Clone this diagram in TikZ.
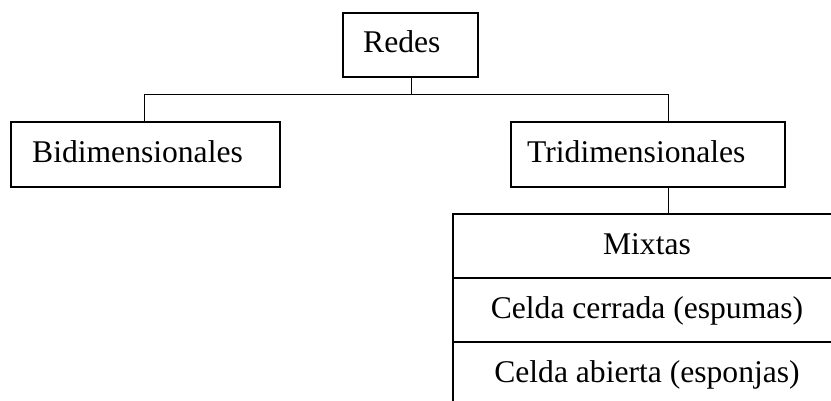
\documentclass[tikz,border=0pt]{standalone}
\usepackage{fontspec}
\setmainfont{Liberation Serif}
\begin{document}
\begin{tikzpicture}[x=1pt,y=-1pt,
  box/.style={draw,line width=1.6pt,rectangle,inner sep=0pt,anchor=north west},
  cell/.style={draw,line width=1.6pt,rectangle,inner sep=0pt,anchor=north west,minimum width=390pt,minimum height=64pt},
  lbl/.style={inner sep=0pt,anchor=base west,font=\fontsize{31.6}{38}\selectfont},
  clbl/.style={inner sep=0pt,anchor=base,font=\fontsize{31.6}{38}\selectfont},
  conn/.style={draw,line width=1pt}]
\useasboundingbox (0,0) rectangle (831,400);
\clip (0,0) rectangle (831,400);
% boxes
\node[box,minimum width=135pt,minimum height=64pt] (redes) at (342,12) {};
\node[box,minimum width=269pt,minimum height=65pt] (bidi) at (10,121) {};
\node[box,minimum width=274pt,minimum height=65pt] (tridi) at (510,121) {};
\node[cell] (mix) at (452,213) {};
\node[cell] (cerr) at (452,277) {};
\node[cell] (abi) at (452,341) {};
% labels
\node[lbl] (tredes) at (363,52) {Redes};
\node[lbl] (tbidi) at (32,162) {Bidimensionales};
\node[lbl] (ttridi) at (527,162) {Tridimensionales};
\node[clbl] (tmix) at (647,254) {Mixtas};
\node[clbl] (tcerr) at (647,318) {Celda cerrada (espumas)};
\node[clbl] (tabi) at (647,382) {Celda abierta (esponjas)};
% connectors
\coordinate (j) at (411,94);
\coordinate (jl) at (144,94);
\coordinate (jr) at (668,94);
\draw[conn] (redes.south -| j) -- (j);
\draw[conn] (jl |- bidi.north) -- (jl) -- (jr) -- (jr |- tridi.north);
\draw[conn] (jr |- tridi.south) -- (jr |- mix.north);
\end{tikzpicture}
\end{document}
